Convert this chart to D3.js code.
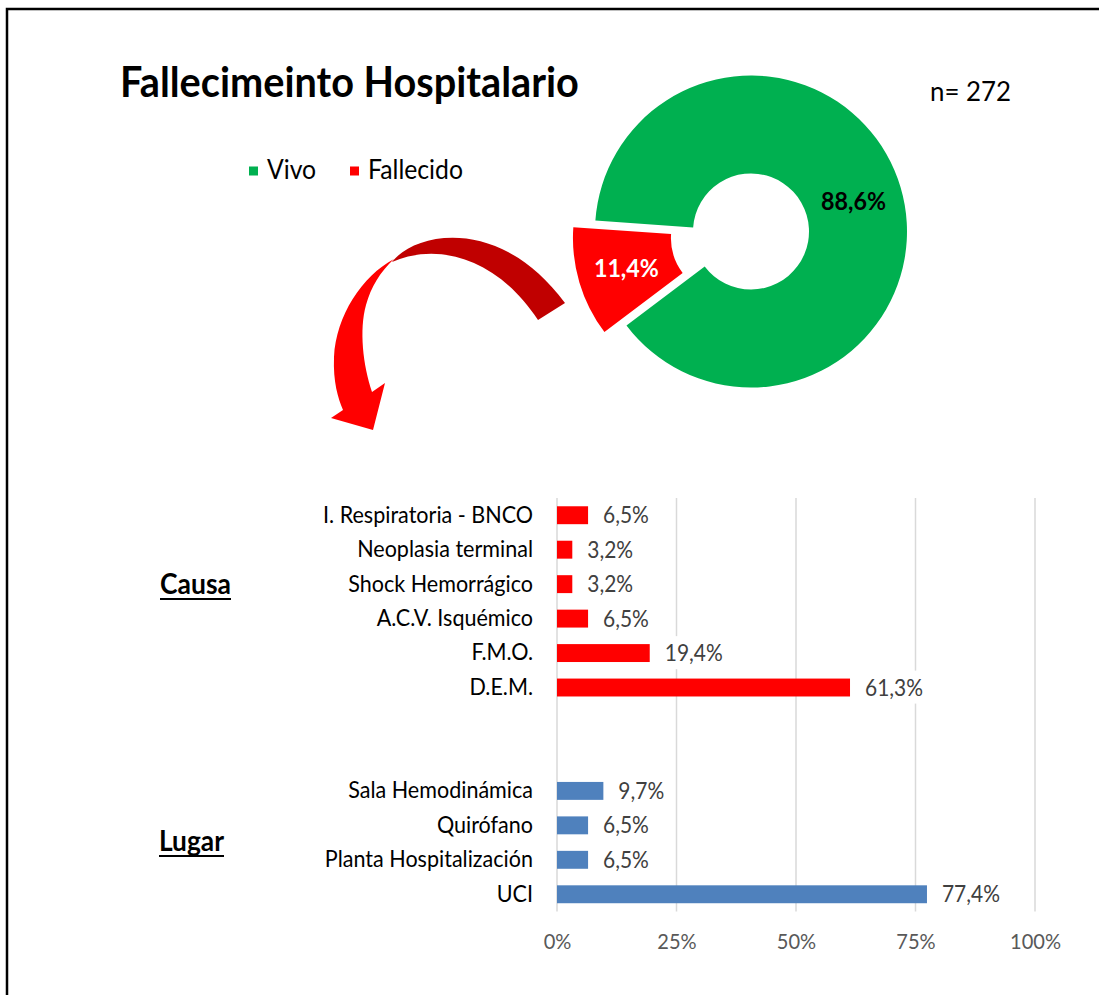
<!DOCTYPE html>
<html>
<head>
<meta charset="utf-8">
<script src="https://cdn.jsdelivr.net/npm/d3@7"></script>
<style>
  html, body { margin: 0; padding: 0; background: #fff; }
  svg { display: block; font-family: Lato, "Open Sans", sans-serif; }
</style>
</head>
<body>
<svg id="chart" width="1099" height="995"></svg>
<script>
// donut data
let pieCats = ["Vivo", "Fallecido"];
let pieVals = [88.6, 11.4];
let pieColors = ["#00B050", "#FF0000"];

// bar data
let causaCats = ["I. Respiratoria - BNCO", "Neoplasia terminal", "Shock Hemorrágico", "A.C.V. Isquémico", "F.M.O.", "D.E.M."];
let causaVals = [6.5, 3.2, 3.2, 6.5, 19.4, 61.3];
let lugarCats = ["Sala Hemodinámica", "Quirófano", "Planta Hospitalización", "UCI"];
let lugarVals = [9.7, 6.5, 6.5, 77.4];
let xTicks = [0, 25, 50, 75, 100];

let svg = d3.select('#chart');
let locale = d3.formatLocale({decimal: ",", thousands: ".", grouping: [3], currency: ["", "€"]});
let fmt1 = locale.format(".1f");

// Lato is wider than the original font: use a slightly taller size and squeeze it back
let grow = 1.07;

// pick a font size so that a sample string has the wanted width
function fitSize(sample, weight, targetW) {
    let t = svg.append('text').attr('font-size', 100).attr('font-weight', weight).text(sample);
    let w = t.node().getComputedTextLength();
    t.remove();
    return 100 * targetW / w;
}
// squeeze every text of a selection back by 1/grow
function squeeze(sel) {
    sel.each(function() {
        let w = this.getComputedTextLength();
        if (w > 0) {
            d3.select(this).attr('textLength', w / grow).attr('lengthAdjust', 'spacingAndGlyphs');
        }
    });
}

// frame
svg.append('rect')
    .attr('x', 7).attr('y', 9)
    .attr('width', 1200).attr('height', 1100)
    .attr('fill', 'none').attr('stroke', '#000').attr('stroke-width', 2.5);

// title + n
svg.append('text')
    .attr('x', 120).attr('y', 97)
    .attr('font-weight', 'bold')
    .attr('font-size', fitSize("Fallecimeinto Hospitalario", 'bold', 459) * grow)
    .attr('fill', '#000')
    .text("Fallecimeinto Hospitalario")
    .call(squeeze);

svg.append('text')
    .attr('x', 930).attr('y', 101)
    .attr('font-size', fitSize("n= 272", 'normal', 81) * grow)
    .attr('fill', '#000')
    .text("n= 272")
    .call(squeeze);

// legend
let legX = [249, 350];
let legFs = fitSize("Fallecido", 'normal', 95) * grow;
let legend = svg.append('g');
pieCats.forEach(function(c, i) {
    legend.append('rect')
        .attr('x', legX[i]).attr('y', 166.5)
        .attr('width', 9).attr('height', 9)
        .attr('fill', pieColors[i]);
    legend.append('text')
        .attr('x', legX[i] + 18).attr('y', 179)
        .attr('font-size', legFs)
        .attr('fill', '#000')
        .text(c)
        .call(squeeze);
});

// donut
let cx = 751, cy = 231.5, rIn = 58, rOut = 156;
let deg = Math.PI / 180;
let pie = d3.pie().sort(null).startAngle(-86 * deg).endAngle(274 * deg);
let arc = d3.arc().innerRadius(rIn).outerRadius(rOut);
let arcs = pie(pieVals);
let explode = [0, 23];
let donut = svg.append('g').attr('transform', `translate(${cx},${cy})`);
let labelFs = fitSize("88,6%", 'bold', 65) * grow;

let slice = donut.selectAll('.slice')
    .data(arcs)
    .enter()
    .append('g')
    .attr('class', 'slice')
    .attr('transform', function(d, i) {
        let a = (d.startAngle + d.endAngle) / 2;
        return `translate(${explode[i] * Math.sin(a)},${-explode[i] * Math.cos(a)})`;
    });

slice.append('path')
    .attr('d', arc)
    .attr('fill', function(d, i) { return pieColors[i]; });

slice.append('text')
    .attr('transform', function(d) { return `translate(${arc.centroid(d)})`; })
    .attr('text-anchor', 'middle')
    .attr('dy', '0.35em')
    .attr('font-weight', 'bold')
    .attr('font-size', labelFs)
    .attr('fill', function(d, i) { return i == 0 ? '#000' : '#fff'; })
    .text(function(d) { return fmt1(d.data) + '%'; })
    .call(squeeze);

// curved arrow (decoration)
svg.append('path')
    .attr('fill', '#C00000')
    .attr('d', 'M392,262 C415,232 500,215 565,303 L538,320 C495,255 435,243 392,262 Z');
svg.append('path')
    .attr('fill', '#FF0000')
    .attr('d', 'M394,259 C362,276 336,316 334,357 C333,382 338,398 343,410 L331,418 L373,430 L385,383 L372,392 ' +
               'C363,365 359,330 366,305 C371,287 380,272 394,259 Z');

// bar chart
let gapCats = ["_gap1", "_gap2"];
let rows = causaCats.map(function(c, i) { return {cat: c, val: causaVals[i], color: '#FF0000'}; })
    .concat(gapCats.map(function(c) { return {cat: c, val: null}; }))
    .concat(lugarCats.map(function(c, i) { return {cat: c, val: lugarVals[i], color: '#4F81BD'}; }));

let x = d3.scaleLinear().domain([0, 100]).range([557, 1035]);
let y = d3.scaleBand()
    .domain(rows.map(function(d) { return d.cat; }))
    .range([498, 911.5])
    .paddingInner(0.48)
    .paddingOuter(0.24);

let bars = svg.append('g');

// vertical gridlines
bars.append('g')
    .selectAll('line')
    .data(xTicks)
    .enter()
    .append('line')
    .attr('x1', function(d) { return x(d); })
    .attr('x2', function(d) { return x(d); })
    .attr('y1', 498).attr('y2', 911.5)
    .attr('stroke', '#D9D9D9').attr('stroke-width', 1.5);

let dataRows = rows.filter(function(d) { return d.val != null; });

bars.append('g')
    .selectAll('rect')
    .data(dataRows)
    .enter()
    .append('rect')
    .attr('x', x(0))
    .attr('y', function(d) { return y(d.cat); })
    .attr('width', function(d) { return x(d.val) - x(0); })
    .attr('height', y.bandwidth())
    .attr('fill', function(d) { return d.color; });

// value labels with white box behind
let valFs = fitSize("61,3%", 'normal', 58) * grow;
let valG = bars.append('g')
    .selectAll('g')
    .data(dataRows)
    .enter()
    .append('g')
    .attr('transform', function(d) { return `translate(${x(d.val) + 15},${y(d.cat) + y.bandwidth() / 2})`; });
valG.append('text')
    .attr('dy', '0.36em')
    .attr('font-size', valFs)
    .attr('fill', '#404040')
    .text(function(d) { return fmt1(d.val) + '%'; })
    .call(squeeze);
valG.insert('rect', 'text')
    .each(function() {
        let b = this.parentNode.querySelector('text').getBBox();
        d3.select(this).attr('x', b.x - 3).attr('y', b.y - 3).attr('width', b.width + 6).attr('height', b.height + 6);
    })
    .attr('fill', '#fff');

// category labels
let catFs = fitSize("I. Respiratoria - BNCO", 'normal', 210) * grow;
let yAxis = d3.axisLeft(y).tickSize(0).tickPadding(0)
    .tickFormat(function(d) { return d.charAt(0) == '_' ? '' : d; });
let yG = bars.append('g')
    .attr('transform', `translate(533,0)`)
    .call(yAxis);
yG.select('.domain').remove();
yG.selectAll('text')
    .attr('font-family', 'Lato, "Open Sans", sans-serif')
    .attr('font-size', catFs)
    .attr('fill', '#000')
    .call(squeeze);

// x tick labels
let tickFs = fitSize("100%", 'normal', 51) * grow;
let xAxis = d3.axisBottom(x).tickValues(xTicks).tickSize(0).tickPadding(0)
    .tickFormat(function(d) { return d + '%'; });
let xG = bars.append('g')
    .attr('transform', `translate(0,934)`)
    .call(xAxis);
xG.select('.domain').remove();
xG.selectAll('text')
    .attr('font-family', 'Lato, "Open Sans", sans-serif')
    .attr('font-size', tickFs)
    .attr('fill', '#595959')
    .call(squeeze);

// group headings
let groups = [{name: "Causa", x: 160, y: 594, w: 71}, {name: "Lugar", x: 159, y: 851, w: 65}];
groups.forEach(function(g) {
    let t = svg.append('text')
        .attr('x', g.x).attr('y', g.y)
        .attr('font-weight', 'bold')
        .attr('font-size', fitSize(g.name, 'bold', g.w) * grow)
        .attr('fill', '#000')
        .text(g.name)
        .call(squeeze);
    svg.append('line')
        .attr('x1', g.x).attr('x2', g.x + g.w)
        .attr('y1', g.y + 5).attr('y2', g.y + 5)
        .attr('stroke', '#000').attr('stroke-width', 2);
});
</script>
</body>
</html>
